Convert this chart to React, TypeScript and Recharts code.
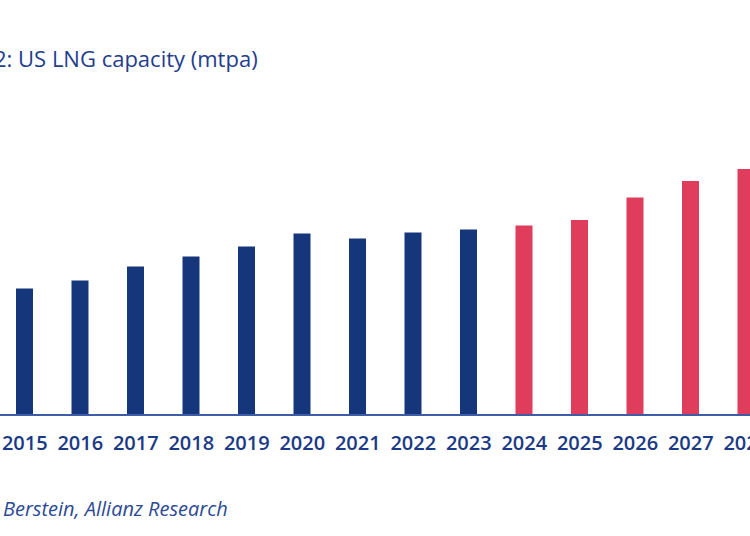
import { Bar, BarChart, Cell, XAxis, YAxis } from "recharts";

const years = ["2015", "2016", "2017", "2018", "2019", "2020", "2021", "2022", "2023", "2024", "2025", "2026", "2027", "2028"];
const capacity = [63.3, 67.3, 74.2, 79.2, 84.2, 90.7, 88.2, 91.3, 92.7, 94.8, 97.5, 108.7, 117, 123];
const forecastFrom = "2024";

const navy = "#15367a";
const red = "#e03c5c";

const data = years.map((year, i) => ({ year, capacity: capacity[i] }));

export default function App() {
  return (
    <div
      style={{
        position: "fixed",
        left: 0,
        top: 0,
        width: 750,
        height: 536,
        overflow: "hidden",
        background: "#fff",
        fontFamily: "'Open Sans', sans-serif",
      }}
    >
      <div style={{ position: "absolute", left: -6, top: 43, fontSize: 22, color: "#1f3e8c", whiteSpace: "nowrap" }}>
        2: US LNG capacity (mtpa)
      </div>
      <div style={{ position: "absolute", left: -3, top: 0 }}>
        <BarChart width={777} height={470} data={data} margin={{ top: 165, right: 0, bottom: 0, left: 0 }} barCategoryGap={0}>
          <YAxis hide domain={[0, 125]} />
          <XAxis
            dataKey="year"
            height={55}
            interval={0}
            tickLine={false}
            tickSize={8}
            tickMargin={13}
            axisLine={{ stroke: "#3d5da8", strokeWidth: 2 }}
            tick={{ fill: "#1b3a85", fontSize: 20, fontWeight: 600 }}
          />
          <Bar dataKey="capacity" barSize={17} isAnimationActive={false}>
            {data.map((d) => (
              <Cell key={d.year} fill={d.year >= forecastFrom ? red : navy} />
            ))}
          </Bar>
        </BarChart>
      </div>
      <div
        style={{
          position: "absolute",
          left: 3,
          top: 495,
          fontSize: 20,
          fontStyle: "italic",
          color: "#2d4a94",
          whiteSpace: "nowrap",
        }}
      >
        Berstein, Allianz Research
      </div>
    </div>
  );
}
